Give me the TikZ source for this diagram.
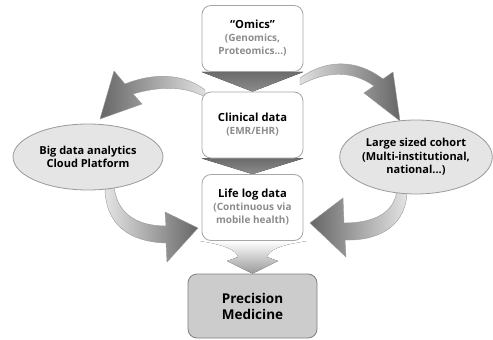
\documentclass[tikz,border=0pt]{standalone}
\usepackage{fontspec}
\setmainfont{Open Sans}
\usetikzlibrary{shapes.geometric}
\pgfdeclarelayer{background}
\pgfsetlayers{background,main}
\newcommand\subtxt[1]{{\color{black!45}\fontsize{10}{12.5}\selectfont #1}}
\tikzset{
  box/.style={draw=black!35, line width=0.8pt, rounded corners=9pt, fill=white,
    minimum width=101pt, minimum height=66pt, align=center, inner sep=1pt,
    font=\fontsize{11.2}{13}\selectfont\bfseries},
  oval/.style={ellipse, draw=black!40, line width=0.8pt, fill=black!10, align=center,
    inner sep=0pt, font=\fontsize{11}{13.5}\selectfont\bfseries},
  fatarrow/.style={draw=black!40, line width=0.4pt},
  tri/.style={top color=black!58, bottom color=black!45},
}
\begin{document}
\begin{tikzpicture}[x=1pt,y=-1pt]
\useasboundingbox (0,0) rectangle (493,340);

\node[box] (omics) at (252.5,38.5) {“Omics”\\\subtxt{(Genomics,}\\\subtxt{Proteomics...)}};
\node[box] (clin) at (252.5,125) {Clinical data\\\subtxt{(EMR/EHR)}};
\node[box] (life) at (252.5,207.5) {Life log data\\\subtxt{(Continuous via}\\\subtxt{mobile health)}};
\node[box, fill=black!20, draw=black!50, minimum width=129pt, minimum height=64pt,
  font=\fontsize{13.5}{16}\selectfont\bfseries] (prec) at (252.5,306) {Precision\\Medicine};
\node[oval, minimum width=150pt, minimum height=66pt] (big) at (88,157) {Big data analytics\\Cloud Platform};
\node[oval, minimum width=142pt, minimum height=74pt] (coh) at (416,157) {Large sized cohort\\(Multi-institutional,\\national...)};

\begin{pgfonlayer}{background}
  % triangles between boxes
  \fill[tri] (omics.south west) -- (omics.south east) -- (clin.north) -- cycle;
  \fill[tri] (clin.south west) -- (clin.south east) -- (life.north) -- cycle;
  % faint arrow to precision medicine
  \fill[top color=white, bottom color=black!40]
    (200,241) .. controls (225,245) and (236,250) .. (238,257) -- (227,261) -- (prec.north)
    -- (278,261) -- (267,257) .. controls (269,250) and (280,245) .. (307,241) -- cycle;
  % top-left curved arrow
  \shade[fatarrow, left color=black!60, right color=black!12]
    (205,90) .. controls (185,74) and (155,72) .. (125,84) -- (114,71) -- (100,119)
    -- (142,104) -- (133,94) .. controls (160,86) and (185,86) .. (205,97) -- cycle;
  % top-right curved arrow
  \shade[fatarrow, left color=black!12, right color=black!60]
    (300,78) .. controls (325,60) and (355,58) .. (383,79) -- (393,72) -- (400,121)
    -- (364,93) -- (374,86) .. controls (350,69) and (325,72) .. (300,85) -- cycle;
  % bottom-left curved arrow
  \shade[fatarrow, left color=black!10, right color=black!60]
    (105,185) .. controls (104,225) and (130,242) .. (166,243) -- (167,262) -- (198,228)
    -- (165,212) -- (166,226) .. controls (135,226) and (116,212) .. (114,185) -- cycle;
  % bottom-right curved arrow
  \shade[fatarrow, left color=black!60, right color=black!10]
    (407,188) .. controls (408,225) and (380,241) .. (345,240) -- (346,257) -- (310,223)
    -- (343,198) -- (344,223) .. controls (375,223) and (396,212) .. (397,188) -- cycle;
\end{pgfonlayer}
\end{tikzpicture}
\end{document}
